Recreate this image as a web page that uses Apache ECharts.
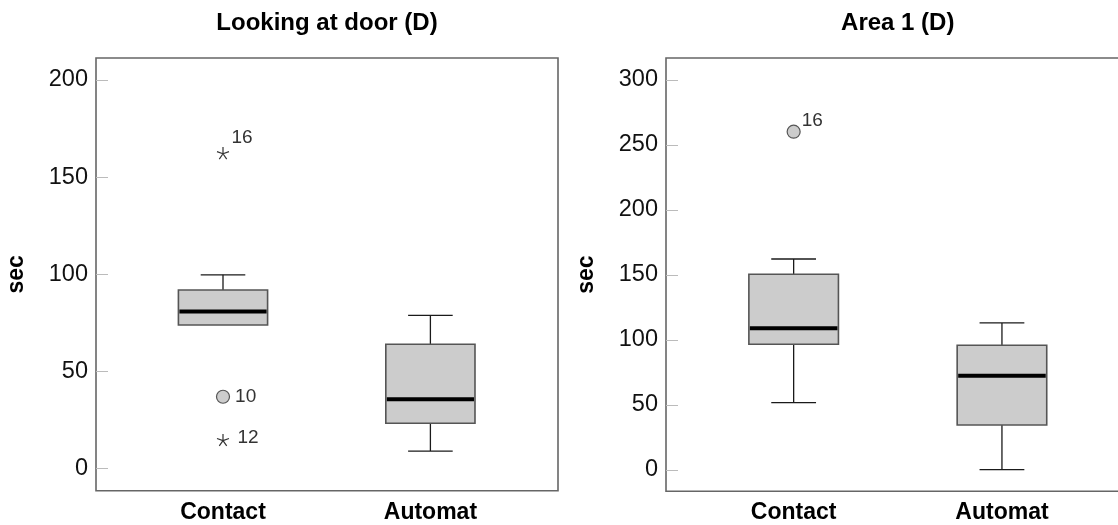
<!DOCTYPE html>
<html>
<head>
<meta charset="utf-8">
<script src="https://cdn.jsdelivr.net/npm/echarts@6/dist/echarts.min.js"></script>
<style>
html,body{margin:0;padding:0;background:#fff;}
#chart{width:1118px;height:525px;}
</style>
</head>
<body>
<div id="chart"></div>
<script>
// ---- data ----
const categories = ['Contact', 'Automat'];
const titles = ['Looking at door (D)', 'Area 1 (D)'];
const yName = 'sec';
// [low whisker, Q1, median, Q3, high whisker]
const doorBoxes = [
  [73.9, 73.9, 80.8, 91.9, 99.7],
  [9.1, 23.4, 35.7, 64.0, 78.9]
];
const areaBoxes = [
  [51.8, 96.7, 109.0, 150.5, 162.3],
  [0.2, 34.6, 72.5, 95.9, 113.1]
];
// [category index, value, case label]
const doorCircles = [[0, 37.0, '10']];
const doorStars = [[0, 162.3, '16'], [0, 14.8, '12']];
const areaCircles = [[0, 260.2, '16']];
const areaStars = [];
const doorRange = [-11.3, 211.2];
const areaRange = [-16.4, 316.9];

// ---- rendering ----
const FONT = "'Liberation Sans', Arial, sans-serif";
const starPath = 'path://M0,-5L0,0M0,0L-4.76,-1.55M0,0L4.76,-1.55M0,0L-2.94,4.05M0,0L2.94,4.05';
const labelOffsets = {
  'door-16': [-5, -15], 'door-10': [0, 0], 'door-12': [1, -2], 'area-16': [-4, -11]
};

function renderBox(params, api) {
  const x = api.value(0);
  const lo = api.coord([x, api.value(1)]);
  const q1 = api.coord([x, api.value(2)]);
  const med = api.coord([x, api.value(3)]);
  const q3 = api.coord([x, api.value(4)]);
  const hi = api.coord([x, api.value(5)]);
  const band = api.size([1, 0])[0];
  const bw = band * 0.43;
  const cw = bw / 2;
  const cx = med[0];
  const wStyle = {stroke: '#1a1a1a', lineWidth: 1.3, fill: null};
  const kids = [];
  if (Math.abs(lo[1] - q1[1]) > 0.5) {
    kids.push({type: 'line', shape: {x1: cx, y1: q1[1], x2: cx, y2: lo[1]}, style: wStyle});
    kids.push({type: 'line', shape: {x1: cx - cw / 2, y1: lo[1], x2: cx + cw / 2, y2: lo[1]}, style: wStyle});
  }
  if (Math.abs(hi[1] - q3[1]) > 0.5) {
    kids.push({type: 'line', shape: {x1: cx, y1: q3[1], x2: cx, y2: hi[1]}, style: wStyle});
    kids.push({type: 'line', shape: {x1: cx - cw / 2, y1: hi[1], x2: cx + cw / 2, y2: hi[1]}, style: wStyle});
  }
  kids.push({type: 'rect', shape: {x: cx - bw / 2, y: q3[1], width: bw, height: q1[1] - q3[1]},
    style: {fill: '#cccccc', stroke: '#555555', lineWidth: 1.6}});
  kids.push({type: 'line', shape: {x1: cx - bw / 2 + 1, y1: med[1], x2: cx + bw / 2 - 1, y2: med[1]},
    style: {stroke: '#000', lineWidth: 4}});
  return {type: 'group', children: kids};
}

function boxData(boxes) {
  return boxes.map((b, i) => [i].concat(b));
}
function pointData(points, key) {
  return points.map(p => ({
    value: [p[0], p[1]],
    name: p[2],
    label: {offset: labelOffsets[key + '-' + p[2]] || [0, 0]}
  }));
}

const pointLabel = {show: true, position: 'right', formatter: '{b}', color: '#333', fontSize: 19, fontFamily: FONT};

const frames = [
  {left: 96, top: 58, width: 462, height: 432.7},
  {left: 666, top: 58, width: 463.5, height: 433.3}
];
const dataGrids = [
  {left: 119.3, top: 58, width: 414.8, height: 432.7},
  {left: 689.5, top: 58, width: 416.6, height: 433.3}
];
const ranges = [doorRange, areaRange];

const grid = [], xAxis = [], yAxis = [];
for (let c = 0; c < 2; c++) {
  grid.push(Object.assign({show: true, borderColor: '#666', borderWidth: 1.6, backgroundColor: 'transparent',
    outerBoundsMode: 'none', containLabel: false}, frames[c]));
  grid.push(Object.assign({show: false, outerBoundsMode: 'none', containLabel: false}, dataGrids[c]));
  xAxis.push({gridIndex: 2 * c, type: 'value', show: false});
  yAxis.push({gridIndex: 2 * c, type: 'value', show: false});
  xAxis.push({
    gridIndex: 2 * c + 1, type: 'category', data: categories, boundaryGap: true,
    axisLine: {show: false}, axisTick: {show: false}, splitLine: {show: false},
    axisLabel: {margin: 10, color: '#000', fontSize: 23, fontWeight: 'bold', fontFamily: FONT}
  });
  yAxis.push({
    gridIndex: 2 * c + 1, type: 'value', min: ranges[c][0], max: ranges[c][1],
    offset: dataGrids[c].left - frames[c].left,
    name: yName, nameLocation: 'middle', nameGap: 68,
    nameTextStyle: {color: '#000', fontSize: 23, fontWeight: 'bold', fontFamily: FONT},
    axisLine: {show: false},
    axisTick: {show: true, inside: true, length: 12, lineStyle: {color: '#bbbbbb', width: 1}},
    splitLine: {show: false},
    axisLabel: {margin: 8, color: '#111', fontSize: 23.5, fontFamily: FONT, showMinLabel: false, showMaxLabel: false,
      formatter: v => (Math.abs(v % 50) < 1e-6 ? String(v) : '')}
  });
}

function chartSeries(c, boxes, circles, stars, key) {
  const ax = 2 * c + 1;
  return [
    {type: 'custom', xAxisIndex: ax, yAxisIndex: ax, renderItem: renderBox,
      encode: {x: 0, y: [1, 2, 3, 4, 5]}, data: boxData(boxes), z: 2},
    {type: 'scatter', xAxisIndex: ax, yAxisIndex: ax, symbol: 'circle', symbolSize: 13,
      itemStyle: {color: '#cccccc', borderColor: '#555', borderWidth: 1.2, opacity: 1},
      label: pointLabel, data: pointData(circles, key), z: 3},
    {type: 'scatter', xAxisIndex: ax, yAxisIndex: ax, symbol: starPath, symbolSize: 12,
      itemStyle: {color: 'none', borderColor: '#333', borderWidth: 1.2, opacity: 1},
      label: pointLabel, data: pointData(stars, key), z: 3}
  ];
}

const option = {
  animation: false,
  backgroundColor: '#fff',
  grid, xAxis, yAxis,
  graphic: [
    {type: 'text', x: frames[0].left + frames[0].width / 2, y: 23,
      style: {text: titles[0], textAlign: 'center', textVerticalAlign: 'middle', fill: '#000',
        font: 'bold 24px ' + FONT}},
    {type: 'text', x: frames[1].left + frames[1].width / 2, y: 23,
      style: {text: titles[1], textAlign: 'center', textVerticalAlign: 'middle', fill: '#000',
        font: 'bold 24px ' + FONT}}
  ],
  series: [].concat(
    chartSeries(0, doorBoxes, doorCircles, doorStars, 'door'),
    chartSeries(1, areaBoxes, areaCircles, areaStars, 'area')
  )
};

const chart = echarts.init(document.getElementById('chart'), null, {renderer: 'canvas'});
chart.setOption(option);
</script>
</body>
</html>
